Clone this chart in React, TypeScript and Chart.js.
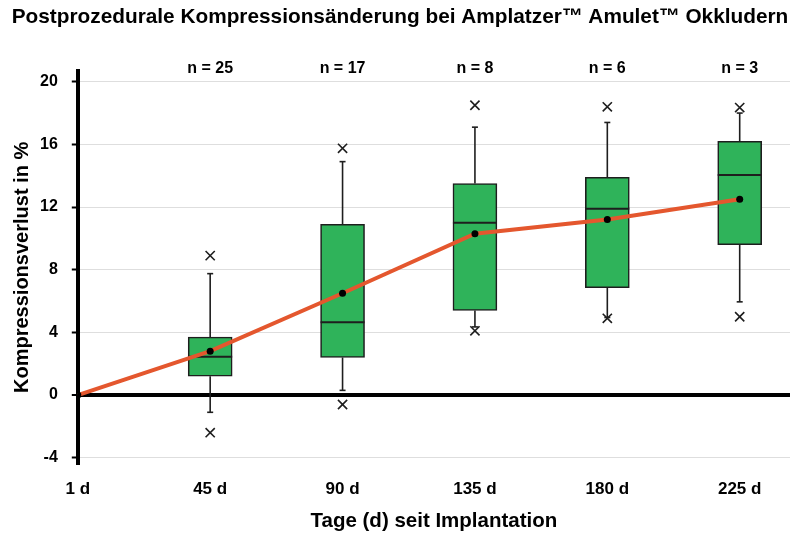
import React, { useEffect, useRef } from 'react';
import { Chart, registerables } from 'chart.js';

Chart.register(...registerables);

const categories = ['1 d', '45 d', '90 d', '135 d', '180 d', '225 d'];
const nLabels = ['n = 25', 'n = 17', 'n = 8', 'n = 6', 'n = 3'];
const boxPositions = [1, 2, 3, 4, 5];
const q1 = [1.2, 2.4, 5.4, 6.85, 9.6];
const q3 = [3.7, 10.9, 13.5, 13.9, 16.2];
const medians = [2.45, 4.65, 11.0, 11.9, 14.05];
const whiskerLow = [-1.1, 0.3, 4.35, 4.95, 5.95];
const whiskerHigh = [7.75, 14.9, 17.1, 17.4, 18.0];
const outlierHigh = [8.9, 15.75, 18.5, 18.4, 18.35];
const outlierLow = [-2.4, -0.6, 4.1, 4.9, 5.0];
const meanPositions = [0, 1, 2, 3, 4, 5];
const meanValues = [0, 2.8, 6.5, 10.3, 11.2, 12.5];
const yTicks = [-4, 0, 4, 8, 12, 16, 20];

const FONT = "'Liberation Sans', Arial, Helvetica, sans-serif";
const GREEN = '#2fb35a';
const ORANGE = '#e4572e';
const DARK = '#1e1e1e';

const boxExtras = {
  id: 'boxExtras',
  beforeDatasetsDraw(chart: any) {
    const { ctx, scales } = chart;
    const x = scales.x;
    const y = scales.y;
    ctx.save();
    ctx.strokeStyle = DARK;
    ctx.lineWidth = 1.6;
    boxPositions.forEach((p, i) => {
      const px = x.getPixelForValue(p);
      const segs = [
        [q3[i], whiskerHigh[i]],
        [q1[i], whiskerLow[i]],
      ];
      segs.forEach(([a, b]) => {
        const ya = y.getPixelForValue(a);
        const yb = y.getPixelForValue(b);
        ctx.beginPath();
        ctx.moveTo(px, ya);
        ctx.lineTo(px, yb);
        ctx.stroke();
        ctx.beginPath();
        ctx.moveTo(px - 3, yb);
        ctx.lineTo(px + 3, yb);
        ctx.stroke();
      });
    });
    ctx.restore();
  },
  afterDatasetDraw(chart: any, args: any) {
    if (args.index !== 0) return;
    const { ctx, scales } = chart;
    const y = scales.y;
    const meta = chart.getDatasetMeta(0);
    ctx.save();
    ctx.strokeStyle = DARK;
    ctx.lineWidth = 2;
    meta.data.forEach((bar: any, i: number) => {
      const half = bar.width / 2;
      const py = y.getPixelForValue(medians[i]);
      ctx.beginPath();
      ctx.moveTo(bar.x - half, py);
      ctx.lineTo(bar.x + half, py);
      ctx.stroke();
    });
    ctx.restore();
  },
  afterDraw(chart: any) {
    const { ctx, scales } = chart;
    const x = scales.x;
    const y = scales.y;
    ctx.save();
    ctx.fillStyle = '#000';
    ctx.font = `bold 16px ${FONT}`;
    ctx.textAlign = 'center';
    ctx.textBaseline = 'middle';
    boxPositions.forEach((p, i) => {
      ctx.fillText(nLabels[i], x.getPixelForValue(p), y.getPixelForValue(20) - 13);
    });
    ctx.restore();
  },
};

export default function App() {
  const ref = useRef<HTMLCanvasElement | null>(null);

  useEffect(() => {
    if (!ref.current) return;
    const chart = new Chart(ref.current, {
      type: 'bar',
      data: {
        datasets: [
          {
            type: 'bar',
            data: boxPositions.map((p, i) => ({ x: p, y: [q1[i], q3[i]] })) as any,
            backgroundColor: GREEN,
            borderColor: DARK,
            borderWidth: 1.6,
            borderSkipped: false,
            barThickness: 44,
            grouped: false,
            order: 3,
          } as any,
          {
            type: 'scatter',
            data: [
              ...boxPositions.map((p, i) => ({ x: p, y: outlierHigh[i] })),
              ...boxPositions.map((p, i) => ({ x: p, y: outlierLow[i] })),
            ],
            pointStyle: 'crossRot',
            pointRadius: 6.5,
            borderColor: DARK,
            borderWidth: 1.6,
            showLine: false,
            order: 2,
          } as any,
          {
            type: 'line',
            data: meanPositions.map((p, i) => ({ x: p, y: meanValues[i] })),
            borderColor: ORANGE,
            borderWidth: 4,
            pointRadius: 3.5,
            pointBackgroundColor: '#000',
            pointBorderWidth: 0,
            tension: 0,
            order: 1,
          } as any,
        ],
      },
      options: {
        responsive: false,
        animation: false,
        layout: { padding: { left: 10, right: 11, top: 0, bottom: 0 } },
        plugins: {
          legend: { display: false },
          tooltip: { enabled: false },
          title: {
            display: true,
            text: 'Postprozedurale Kompressionsänderung bei Amplatzer™ Amulet™ Okkludern',
            color: '#000',
            font: { family: FONT, size: 20.8, weight: 'bold' },
            padding: { top: 4.5, bottom: 41.3 },
          },
        },
        scales: {
          x: {
            type: 'linear',
            min: 0,
            max: 5.38,
            offset: false,
            afterBuildTicks: (scale: any) => {
              scale.ticks = meanPositions.map((v) => ({ value: v }));
            },
            grid: { display: false, drawTicks: true, tickLength: 12, offset: false },
            border: { display: false },
            ticks: {
              color: '#000',
              font: { family: FONT, size: 17, weight: 'bold' },
              padding: 3,
              maxRotation: 0,
              autoSkip: false,
              callback: (v: any) => categories[v] ?? '',
            },
            title: {
              display: true,
              text: 'Tage (d) seit Implantation',
              color: '#000',
              font: { family: FONT, size: 20.5, weight: 'bold' },
              padding: { top: 6.3, bottom: 0.7 },
            },
          },
          y: {
            type: 'linear',
            min: -4.4,
            max: 20.7,
            afterBuildTicks: (scale: any) => {
              scale.ticks = yTicks.map((v) => ({ value: v }));
            },
            grid: {
              color: (c: any) => (c.tick && c.tick.value === 0 ? '#000' : '#dedede'),
              lineWidth: (c: any) => (c.tick && c.tick.value === 0 ? 4 : 1),
              tickColor: '#000',
              tickLength: 6,
              tickWidth: 2,
            },
            border: { display: true, color: '#000', width: 4 },
            ticks: {
              color: '#000',
              font: { family: FONT, size: 16, weight: 'bold' },
              padding: 14,
            },
            title: {
              display: true,
              text: 'Kompressionsverlust in %',
              color: '#000',
              font: { family: FONT, size: 20, weight: 'bold' },
              padding: { top: 0, bottom: -8 },
            },
          },
        },
      } as any,
      plugins: [boxExtras],
    });
    return () => chart.destroy();
  }, []);

  return (
    <div style={{ position: 'absolute', left: 0, top: 0, width: 801, height: 534, background: '#fff' }}>
      <canvas ref={ref} width={801} height={534} />
    </div>
  );
}
